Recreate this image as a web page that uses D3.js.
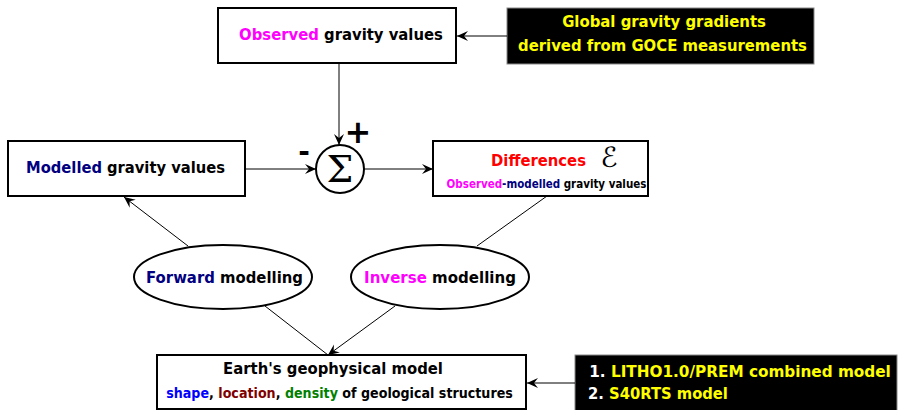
<!DOCTYPE html>
<html>
<head>
<meta charset="utf-8">
<script src="https://cdn.jsdelivr.net/npm/d3@7"></script>
<style>
body { margin: 0; background: #fff; }
text { font-family: "DejaVu Sans", Verdana, sans-serif; font-weight: bold; }
</style>
</head>
<body>
<svg id="chart" width="900" height="410"></svg>
<script>
var width = 900, height = 410;

// word runs for every label: [text, colour]
var observedText = [["Observed", "#ff00ff"], [" gravity values", "#000"]];
var goceText1 = [["Global gravity gradients", "#ffff00"]];
var goceText2 = [["derived from GOCE measurements", "#ffff00"]];
var modelledText = [["Modelled", "#000080"], [" gravity values", "#000"]];
var diffTitle = [["Differences", "#ff0000"]];
var diffSub = [["Observed", "#ff00ff"], ["-modelled", "#000080"], [" gravity values", "#000"]];
var forwardText = [["Forward", "#000080"], [" modelling", "#000"]];
var inverseText = [["Inverse", "#ff00ff"], [" modelling", "#000"]];
var earthTitle = [["Earth's geophysical model", "#000"]];
var earthSub = [["shape", "#0000ff"], [", ", "#000"], ["location", "#800000"], [", ", "#000"],
                ["density", "#008000"], [" of geological structures", "#000"]];
var modelText1 = [["1. ", "#fff"], ["LITHO1.0/PREM combined model", "#ffff00"]];
var modelText2 = [["2. ", "#fff"], ["S40RTS model", "#ffff00"]];

var svg = d3.select("#chart");

var defs = svg.append("defs");
defs.append("marker")
  .attr("id", "arrow")
  .attr("viewBox", "-12 -6 13 12")
  .attr("refX", 0).attr("refY", 0)
  .attr("markerWidth", 13).attr("markerHeight", 12)
  .attr("markerUnits", "userSpaceOnUse")
  .attr("orient", "auto")
  .append("path")
  .attr("d", "M0,0 L-11,-5 L-7,0 L-11,5 Z")
  .attr("fill", "#000");

/*
* boxes
*/
var boxes = [
  {x: 218, y: 8, w: 238, h: 55, dark: false},
  {x: 507, y: 8, w: 307, h: 56, dark: true},
  {x: 8, y: 141, w: 237, h: 55, dark: false},
  {x: 433, y: 141, w: 215, h: 55, dark: false},
  {x: 157, y: 355, w: 369, h: 54, dark: false},
  {x: 575, y: 355, w: 322, h: 60, dark: true}
];

svg.append("g").selectAll("rect")
  .data(boxes)
  .enter().append("rect")
  .attr("x", function(d) { return d.x; })
  .attr("y", function(d) { return d.y; })
  .attr("width", function(d) { return d.w; })
  .attr("height", function(d) { return d.h; })
  .attr("fill", function(d) { return d.dark ? "#000" : "#fff"; })
  .attr("stroke", function(d) { return d.dark ? "#888" : "#000"; })
  .attr("stroke-width", function(d) { return d.dark ? 1 : 2; });

var ellipses = [{cx: 223, cy: 277}, {cx: 440, cy: 277}];
svg.append("g").selectAll("ellipse")
  .data(ellipses)
  .enter().append("ellipse")
  .attr("cx", function(d) { return d.cx; })
  .attr("cy", function(d) { return d.cy; })
  .attr("rx", 89).attr("ry", 32)
  .attr("fill", "#fff").attr("stroke", "#000").attr("stroke-width", 2);

/*
* connecting lines, arrow = marker at the end
*/
var links = [
  {x1: 507, y1: 36, x2: 457, y2: 36, arrow: true},
  {x1: 339, y1: 63, x2: 339, y2: 145, arrow: true},
  {x1: 245, y1: 169, x2: 316, y2: 169, arrow: true},
  {x1: 364, y1: 169, x2: 433, y2: 169, arrow: true},
  {x1: 188, y1: 246, x2: 124, y2: 197, arrow: true},
  {x1: 547, y1: 196, x2: 477, y2: 246, arrow: false},
  {x1: 265, y1: 306, x2: 328, y2: 355, arrow: false},
  {x1: 395, y1: 306, x2: 328, y2: 355, arrow: true},
  {x1: 575, y1: 383, x2: 527, y2: 383, arrow: true}
];

svg.append("g").selectAll("line")
  .data(links)
  .enter().append("line")
  .attr("x1", function(d) { return d.x1; })
  .attr("y1", function(d) { return d.y1; })
  .attr("x2", function(d) { return d.x2; })
  .attr("y2", function(d) { return d.y2; })
  .attr("stroke", "#000").attr("stroke-width", 1)
  .attr("marker-end", function(d) { return d.arrow ? "url(#arrow)" : null; });

// summing junction
svg.append("circle")
  .attr("cx", 340).attr("cy", 169).attr("r", 24)
  .attr("fill", "#fff").attr("stroke", "#000").attr("stroke-width", 2);

svg.append("text")
  .attr("x", 340).attr("y", 182)
  .attr("text-anchor", "middle")
  .style("font-family", "'DejaVu Serif', serif")
  .style("font-weight", "normal")
  .attr("font-size", 38)
  .text("\u03A3");

svg.append("text")
  .attr("x", 358).attr("y", 143)
  .attr("text-anchor", "middle")
  .attr("font-size", 32)
  .text("+");

svg.append("text")
  .attr("x", 304).attr("y", 161)
  .attr("text-anchor", "middle")
  .attr("font-size", 28)
  .text("-");

svg.append("text")
  .attr("x", 609).attr("y", 167)
  .attr("text-anchor", "middle")
  .style("font-weight", "normal")
  .attr("font-size", 28)
  .text("\u2130");

/*
* labels: each squeezed horizontally to the width it takes in the figure
*/
var labels = [
  {runs: observedText, x: 341, y: 40, w: 204, size: 16},
  {runs: goceText1, x: 664, y: 27, w: 204, size: 16},
  {runs: goceText2, x: 662.5, y: 51, w: 289, size: 16},
  {runs: modelledText, x: 125.5, y: 173, w: 199, size: 16},
  {runs: diffTitle, x: 538.5, y: 166, w: 95, size: 16},
  {runs: diffSub, x: 546.5, y: 188, w: 200, size: 12},
  {runs: forwardText, x: 224.5, y: 283, w: 157, size: 16},
  {runs: inverseText, x: 440, y: 283, w: 152, size: 16},
  {runs: earthTitle, x: 333, y: 374, w: 220, size: 16},
  {runs: earthSub, x: 339.5, y: 398, w: 347, size: 14},
  {runs: modelText1, x: 740, y: 377, w: 302, size: 16},
  {runs: modelText2, x: 658, y: 399, w: 140, size: 16}
];

var label = svg.append("g").selectAll("text")
  .data(labels)
  .enter().append("text")
  .attr("text-anchor", "middle")
  .attr("font-size", function(d) { return d.size; });

label.selectAll("tspan")
  .data(function(d) { return d.runs; })
  .enter().append("tspan")
  .attr("fill", function(r) { return r[1]; })
  .style("white-space", "pre")
  .text(function(r) { return r[0]; });

label.each(function(d) {
  var sx = d.w / this.getComputedTextLength();
  d3.select(this).attr("transform", "translate(" + d.x + "," + d.y + ") scale(" + sx + ",1)");
});
</script>
</body>
</html>
